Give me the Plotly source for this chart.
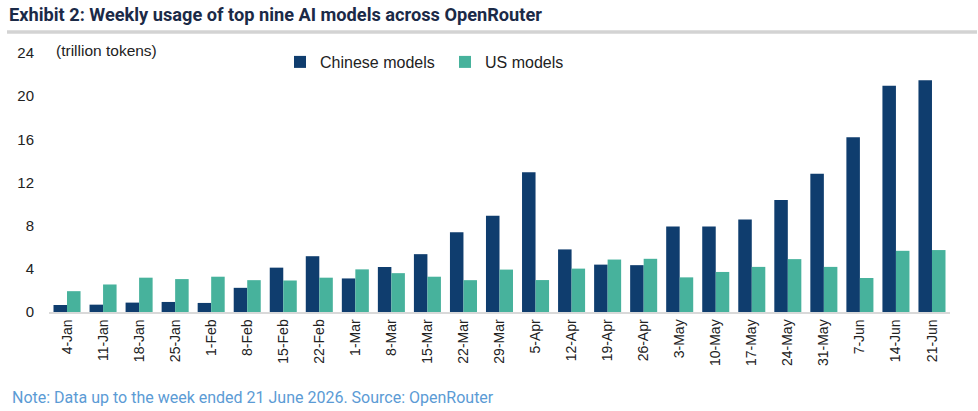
import plotly.graph_objects as go

weeks = ["4-Jan", "11-Jan", "18-Jan", "25-Jan", "1-Feb", "8-Feb", "15-Feb", "22-Feb",
         "1-Mar", "8-Mar", "15-Mar", "22-Mar", "29-Mar", "5-Apr", "12-Apr", "19-Apr",
         "26-Apr", "3-May", "10-May", "17-May", "24-May", "31-May", "7-Jun", "14-Jun", "21-Jun"]

chinese = [0.65, 0.68, 0.87, 0.93, 0.84, 2.24, 4.11, 5.17, 3.11, 4.17, 5.36, 7.38, 8.93,
           12.96, 5.80, 4.39, 4.34, 7.92, 7.92, 8.57, 10.37, 12.80, 16.20, 20.97, 21.47]
us = [1.93, 2.55, 3.18, 3.05, 3.27, 2.95, 2.92, 3.18, 3.95, 3.60, 3.27, 2.95, 3.93,
      2.96, 4.02, 4.86, 4.93, 3.21, 3.71, 4.18, 4.90, 4.18, 3.15, 5.67, 5.74]

y_ticks = [0, 4, 8, 12, 16, 20, 24]

C_CN = "#0f3d6e"
C_US = "#47b29c"
FONT = "Liberation Sans, Arial, sans-serif"

fig = go.Figure()
fig.add_trace(go.Bar(x=weeks, y=chinese, name="Chinese models", marker_color=C_CN,
                     marker_line_width=0))
fig.add_trace(go.Bar(x=weeks, y=us, name="US models", marker_color=C_US,
                     marker_line_width=0))

L, R, T, B = 49, 28, 53, 99
W, H = 978, 411
pw = W - L - R
ph = H - T - B

fig.update_layout(
    width=W, height=H,
    margin=dict(l=L, r=R, t=T, b=B, autoexpand=False),
    paper_bgcolor="white", plot_bgcolor="white",
    barmode="group", bargap=0.25, bargroupgap=0,
    font=dict(family=FONT, color="#222222", size=14),
    showlegend=True,
    legend=dict(orientation="h", x=(280 - L) / pw, xanchor="left",
                y=(H - B - 62) / ph, yanchor="middle",
                font=dict(size=16, family=FONT, color="#222222"),
                bgcolor="rgba(0,0,0,0)", itemwidth=30, traceorder="normal",
                entrywidth=120, entrywidthmode="pixels"),
    xaxis=dict(type="category", tickangle=-90, showgrid=False, showline=True,
               linecolor="#d9d9d9", linewidth=1.5, ticks="", automargin=False,
               tickfont=dict(size=14, family=FONT, color="#222222")),
    yaxis=dict(range=[0, 24], tickvals=y_ticks, showgrid=False, zeroline=False,
               showline=False, ticks="", ticklabelstandoff=14, automargin=False,
               tickfont=dict(size=15, family=FONT, color="#222222")),
)

fig.add_annotation(text="<b>Exhibit 2: Weekly usage of top nine AI models across OpenRouter</b>",
                   xref="paper", yref="paper", x=(7 - L) / pw, y=(H - B - 14) / ph,
                   xanchor="left", yanchor="middle", showarrow=False,
                   font=dict(family="Roboto, sans-serif", size=18.2, color="#1b2a47"))
fig.add_shape(type="line", xref="paper", yref="paper",
              x0=(7 - L) / pw, x1=(977 - L) / pw,
              y0=(H - B - 32) / ph, y1=(H - B - 32) / ph,
              line=dict(color="#d3d3d3", width=3.5))
fig.add_annotation(text="(trillion tokens)", xref="paper", yref="paper",
                   x=(54 - L) / pw, y=(H - B - 50) / ph, xanchor="left", yanchor="middle",
                   showarrow=False,
                   font=dict(family=FONT, size=15.5, color="#222222"))
fig.add_annotation(text="Note: Data up to the week ended 21 June 2026. Source: OpenRouter",
                   xref="paper", yref="paper", x=(10 - L) / pw, y=(H - B - 397) / ph,
                   xanchor="left", yanchor="middle", showarrow=False,
                   font=dict(family="Roboto, sans-serif", size=16, color="#5b9bd5"))

fig.write_html("out.html", config={"displayModeBar": False},
               post_script="document.body.style.margin='0';document.body.style.overflow='hidden';")
